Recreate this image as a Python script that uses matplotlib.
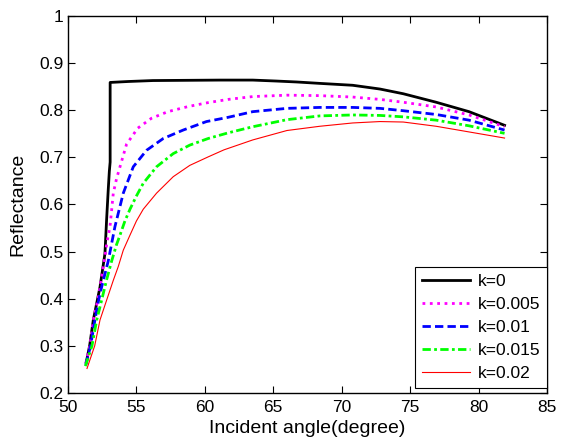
import matplotlib
matplotlib.use("Agg")
import matplotlib.pyplot as plt

plt.rcParams['font.family'] = ['Liberation Sans', 'DejaVu Sans']

# values
x_k0 = [51.34, 51.58, 51.85, 52.34, 52.7, 52.82, 52.94, 53.02, 53.08, 53.08, 54.4, 56.2,
        61.1, 63.5, 65.2, 66.7, 68.4, 69.6, 70.8, 72.8, 74.5, 76.9, 79.3, 81.9]
y_k0 = [0.266, 0.30, 0.355, 0.425, 0.496, 0.567, 0.631, 0.67, 0.69, 0.859, 0.861, 0.863,
        0.864, 0.864, 0.862, 0.860, 0.857, 0.855, 0.853, 0.845, 0.835, 0.817, 0.797, 0.768]

x_k005 = [51.3, 51.6, 51.85, 52.2, 52.34, 52.7, 52.85, 53.07, 53.31, 53.55, 53.8, 54.28,
          55.1, 56.1, 57.3, 58.8, 60.2, 61.7, 63.5, 66.0, 68.4, 70.8, 72.8, 74.5, 76.9,
          79.3, 81.9]
y_k005 = [0.263, 0.30, 0.355, 0.40, 0.425, 0.49, 0.52, 0.553, 0.624, 0.655, 0.680, 0.728,
          0.762, 0.783, 0.797, 0.808, 0.816, 0.823, 0.829, 0.832, 0.831, 0.828, 0.823, 0.817,
          0.807, 0.790, 0.765]

x_k01 = [51.3, 51.65, 51.97, 52.26, 52.46, 52.94, 53.43, 54.04, 54.77, 55.74, 56.96, 58.42,
         60.12, 61.7, 63.5, 66.0, 68.4, 70.8, 72.8, 74.5, 76.9, 79.3, 81.9]
y_k01 = [0.26, 0.30, 0.355, 0.40, 0.425, 0.48, 0.553, 0.624, 0.680, 0.715, 0.740, 0.758,
         0.776, 0.785, 0.797, 0.804, 0.806, 0.806, 0.804, 0.799, 0.791, 0.779, 0.758]

x_k015 = [51.27, 51.75, 52.1, 52.4, 52.82, 53.19, 53.55, 53.8, 54.16, 54.53, 55.0, 55.5,
          56.47, 57.69, 58.9, 60.24, 61.7, 63.5, 66.0, 68.4, 70.8, 72.8, 74.5, 76.9, 79.3,
          81.9]
y_k015 = [0.257, 0.30, 0.355, 0.39, 0.44, 0.48, 0.515, 0.535, 0.565, 0.59, 0.618, 0.645,
          0.680, 0.708, 0.726, 0.740, 0.752, 0.765, 0.780, 0.788, 0.790, 0.789, 0.786, 0.779,
          0.767, 0.751]

x_k02 = [51.39, 51.95, 52.34, 52.8, 53.31, 53.67, 54.04, 54.53, 55.0, 55.5, 56.47, 57.69,
         58.9, 60.24, 61.4, 62.5, 63.5, 66.0, 68.4, 70.8, 72.8, 74.5, 76.9, 79.3, 81.9]
y_k02 = [0.252, 0.30, 0.355, 0.395, 0.439, 0.468, 0.503, 0.535, 0.565, 0.59, 0.624, 0.659,
         0.683, 0.701, 0.716, 0.727, 0.737, 0.757, 0.766, 0.773, 0.776, 0.775, 0.766, 0.754,
         0.741]

fig = plt.figure(figsize=(5.61, 4.42), dpi=100)
ax = fig.add_axes([0.1212, 0.1109, 0.8538, 0.8529])

ax.plot(x_k0, y_k0, color='black', linestyle='-', linewidth=2, label='k=0')
ax.plot(x_k005, y_k005, color='#ff00ff', linestyle=':', linewidth=2, label='k=0.005')
ax.plot(x_k01, y_k01, color='blue', linestyle='--', linewidth=2, dashes=(3, 1.5), label='k=0.01')
ax.plot(x_k015, y_k015, color='#00ff00', linestyle='-.', linewidth=2,
        dashes=(3, 1.2, 1, 1.2), label='k=0.015')
ax.plot(x_k02, y_k02, color='red', linestyle='-', linewidth=0.8, label='k=0.02')

ax.set_xlim(50, 85)
ax.set_ylim(0.2, 1)
ax.set_xticks([50, 55, 60, 65, 70, 75, 80, 85])
ax.set_yticks([0.2, 0.3, 0.4, 0.5, 0.6, 0.7, 0.8, 0.9, 1])
ax.set_yticklabels(['0.2', '0.3', '0.4', '0.5', '0.6', '0.7', '0.8', '0.9', '1'])
ax.tick_params(direction='in', top=True, right=True, length=5, labelsize=12.5, width=0.8)
ax.tick_params(axis='x', pad=5)
for s in ax.spines.values():
    s.set_linewidth(1)

ax.set_xlabel('Incident angle(degree)', fontsize=14, labelpad=4)
ax.set_ylabel('Reflectance', fontsize=14, labelpad=9)

leg = ax.legend(loc='lower right', bbox_to_anchor=(1.0, 0.013), fontsize=12.5,
                fancybox=False, framealpha=1, edgecolor='black', handlelength=2.8,
                labelspacing=0.45, borderaxespad=0, handletextpad=0.4, borderpad=0.4)
leg.get_frame().set_linewidth(0.8)

fig.savefig('out.png', dpi=100)
